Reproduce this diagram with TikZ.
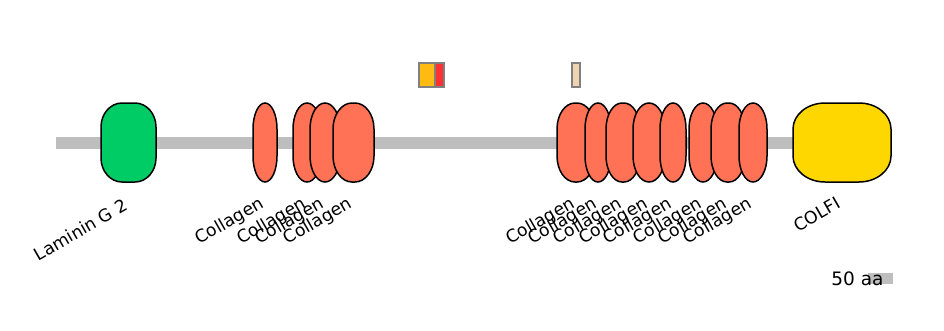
\documentclass[tikz,border=0pt]{standalone}
\usepackage{fontspec}
\setmainfont{DejaVu Sans}
\definecolor{bbgray}{RGB}{190,190,190}
\definecolor{lamgreen}{RGB}{0,204,102}
\definecolor{colcoral}{RGB}{255,114,86}
\definecolor{colfigold}{RGB}{255,215,0}
\definecolor{motorange}{RGB}{255,187,17}
\definecolor{motred}{RGB}{255,48,48}
\definecolor{motbeige}{RGB}{240,212,178}
\definecolor{motedge}{RGB}{128,128,128}
\tikzset{
  domline/.style={draw=black,line width=1.5pt},
  lbl/.style={rotate=30,anchor=base east,inner sep=0pt,font=\fontsize{17.3pt}{20pt}\selectfont},
  motif/.style={draw=motedge,line width=1.6pt},
}
% name, x1, x2, fill, rx, ry  (y from 103 to 182)
\newcommand\protdom[6]{%
  \pgfmathsetmacro\ka{#5*0.4477}\pgfmathsetmacro\kb{#6*0.4477}%
  \draw[domline,fill=#4]
    (#2,103+#6) .. controls (#2,103+\kb) and (#2+\ka,103) .. (#2+#5,103)
    -- (#3-#5,103) .. controls (#3-\ka,103) and (#3,103+\kb) .. (#3,103+#6)
    -- (#3,182-#6) .. controls (#3,182-\kb) and (#3-\ka,182) .. (#3-#5,182)
    -- (#2+#5,182) .. controls (#2+\ka,182) and (#2,182-\kb) .. (#2,182-#6)
    -- cycle;
  \coordinate (#1) at ({(#2+#3)/2},142.5);
}
\begin{document}
\begin{tikzpicture}[x=1pt,y=-1pt]
\useasboundingbox (0,0) rectangle (944,330);
% backbone
\fill[bbgray] (56,137) rectangle (880,149);
% motifs
\draw[motif,fill=motorange] (419,63) rectangle (435,87);
\draw[motif,fill=motred] (435,63) rectangle (444,87);
\draw[motif,fill=motbeige] (572,63) rectangle (580,87);
% domains
\protdom{lam}{101}{156}{lamgreen}{21}{24}
\protdom{c1}{253}{277}{colcoral}{12}{26}
\protdom{c2}{293}{321}{colcoral}{14}{26}
\protdom{c3}{310}{340}{colcoral}{15}{26}
\protdom{c4}{333}{374}{colcoral}{19}{26}
\protdom{c5}{557}{595}{colcoral}{18}{26}
\protdom{c6}{585}{611}{colcoral}{13}{26}
\protdom{c7}{606}{640}{colcoral}{16}{26}
\protdom{c8}{633}{665}{colcoral}{16}{26}
\protdom{c9}{660}{686}{colcoral}{13}{26}
\protdom{c10}{689}{717}{colcoral}{14}{26}
\protdom{c11}{711}{745}{colcoral}{16}{26}
\protdom{c12}{739}{767}{colcoral}{14}{26}
\protdom{colfi}{793}{891}{colfigold}{32}{26}
% labels
\node[lbl] (llam) at (129,209) {Laminin G 2};
\foreach \n/\x in {c1/265,c2/307,c3/325,c4/353.5,c5/576,c6/598,c7/623,c8/649,c9/673,c10/703,c11/728,c12/753}{
  \node[lbl] (l\n) at (\x,207) {Collagen};
}
\node[lbl] (lcolfi) at (842,207) {COLFI};
% scale
\fill[bbgray] (868,273) rectangle (893,284);
\node[inner sep=0pt,anchor=base,font=\fontsize{18.5pt}{21pt}\selectfont] (scale) at (857.5,285) {50 aa};
\end{tikzpicture}
\end{document}
